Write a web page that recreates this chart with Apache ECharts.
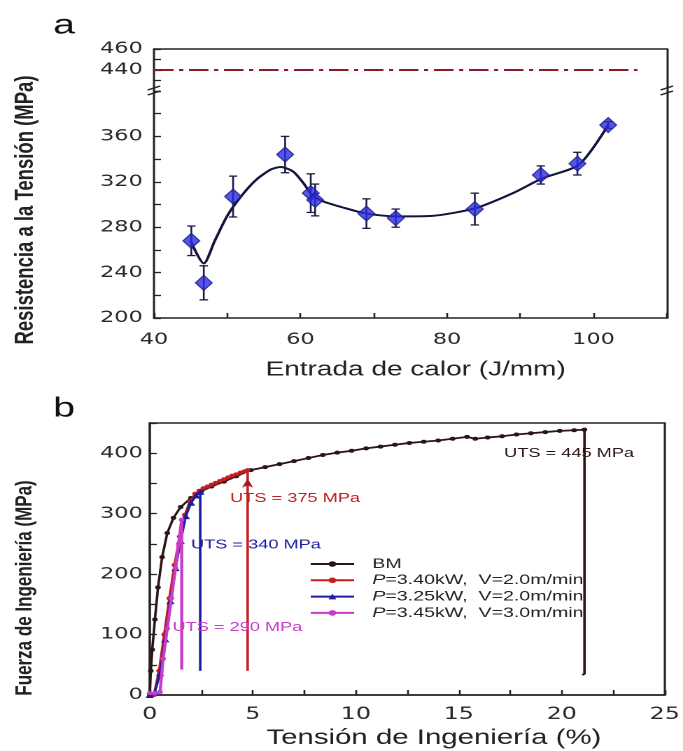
<!DOCTYPE html>
<html>
<head>
<meta charset="utf-8">
<script src="https://cdn.jsdelivr.net/npm/echarts@6/dist/echarts.min.js"></script>
<style>
  html, body { margin: 0; padding: 0; background: #fff; overflow: hidden; }
  /* la figura original viene estirada en horizontal: se dibuja a 488px y se estira */
  #main { width: 488px; height: 751px; transform: scaleX(1.3996); transform-origin: 0 0; }
</style>
</head>
<body>
<div id="main"></div>
<script>
// ---- (a) resistencia a la tension vs entrada de calor ----
const heatInput = [45.1, 46.8, 50.8, 57.9, 61.4, 62.0, 69.0, 73.0, 83.8, 92.8, 97.8, 102.0]
const utsMean = [268, 231, 307, 344, 310, 304, 292, 288, 296, 326, 336, 370]
const utsErr = [13, 15, 18, 16, 17, 14, 13, 8, 14, 8, 10, 3]
// curva de ajuste
const fitX = [45, 46.8, 48.3, 50, 52, 54, 56, 57.3, 59, 60.5, 61.5, 63, 66, 69, 73, 78, 84, 89, 93, 98, 102]
const fitY = [268, 248, 268, 290, 308, 322, 331, 333, 329, 318, 309, 303, 297, 292, 289.5, 290, 297, 310, 323, 335, 370]
// linea del metal base (440 MPa)
const bmRefX = [40, 106]
const bmRefY = [440, 440]

// ---- (b) curvas tension-deformacion ----
const seriesNames = ['BM', 'P=3.40kW,  V=2.0m/min', 'P=3.25kW,  V=2.0m/min', 'P=3.45kW,  V=3.0m/min']
const bmStrain = [0, 0.05, 0.12, 0.25, 0.4, 0.6, 0.85, 1.15, 1.5, 2.0, 2.5, 3.0, 3.6, 4.2, 4.9, 5.6, 6.3, 7.0, 7.7, 8.4, 9.1, 9.8, 10.5, 11.2, 11.9, 12.6, 13.3, 14.0, 14.7, 15.4, 15.8, 16.4, 17.1, 17.8, 18.5, 19.2, 19.9, 20.6, 21.1, 21.1, 21.0]
const bmStress = [0, 40, 75, 125, 178, 228, 268, 293, 311, 326, 337, 345, 353, 362, 372, 377, 382, 387, 392, 397, 401, 404, 408, 411, 414, 417, 419, 421, 424, 427, 424, 426, 428, 431, 433, 435, 437, 438, 439, 35, 33]
const p340Strain = [0.2, 0.45, 0.7, 0.95, 1.2, 1.45, 1.7, 1.95, 2.2, 2.4, 2.6, 2.8, 3.0, 3.2, 3.4, 3.6, 3.8, 4.0, 4.2, 4.4, 4.6, 4.75, 4.75]
const p340Stress = [0, 40, 100, 160, 215, 262, 298, 320, 333, 338, 342, 345, 348, 351, 354, 357, 360, 363, 365, 368, 370, 372, 40]
const p325Strain = [0, 0.25, 0.5, 0.75, 1.0, 1.25, 1.5, 1.75, 2.0, 2.25, 2.45, 2.45]
const p325Stress = [0, 5, 36, 92, 155, 210, 255, 296, 318, 330, 336, 40]
const p345Strain = [0, 0.25, 0.5, 0.65, 0.85, 1.05, 1.25, 1.4, 1.55, 1.55]
const p345Stress = [3, 3, 5, 60, 110, 160, 210, 250, 290, 42]
// cuantos puntos finales son la caida vertical (sin marcador)
const dropPoints = [2, 1, 1, 1]

// anotaciones UTS
const utsText = ['UTS = 445 MPa', 'UTS = 375 MPa', 'UTS = 340 MPa', 'UTS = 290 MPa']
const utsTextX = [17.2, 3.9, 2.0, 1.1]
const utsTextY = [400, 325, 248, 112]

const lineColors = ['#2b1515', '#c41e1e', '#1c1ca0', '#c83cc8']
const symbols = ['circle', 'circle', 'triangle', 'circle']
const symbolSizes = [4, 4, 6, 4]

const tickFont = 'DejaVu Sans'
const axisColor = '#222'

function buildCurve (xs, ys, drop) {
  return xs.map((x, i) => {
    if (i >= xs.length - drop) return { value: [x, ys[i]], symbol: 'none' }
    return [x, ys[i]]
  })
}

function renderErrorBar (params, api) {
  const x = api.value(0)
  const y = api.value(1)
  const e = api.value(2)
  const top = api.coord([x, y + e])
  const bottom = api.coord([x, y - e])
  const w = 3
  const style = { stroke: '#1c1c40', lineWidth: 1.3 }
  return {
    type: 'group',
    children: [
      { type: 'line', shape: { x1: top[0], y1: top[1], x2: bottom[0], y2: bottom[1] }, style },
      { type: 'line', shape: { x1: top[0] - w, y1: top[1], x2: top[0] + w, y2: top[1] }, style },
      { type: 'line', shape: { x1: bottom[0] - w, y1: bottom[1], x2: bottom[0] + w, y2: bottom[1] }, style }
    ]
  }
}

const chart = echarts.init(document.getElementById('main'), null, { devicePixelRatio: 2 })

const lineOnly = {
  axisLine: { show: true, lineStyle: { color: axisColor, width: 1.5 } },
  axisTick: { show: false },
  axisLabel: { show: false },
  splitLine: { show: false }
}
const inTick = { show: true, inside: true, length: 5, lineStyle: { color: axisColor, width: 1.3 } }

const bSeries = [
  [bmStrain, bmStress],
  [p340Strain, p340Stress],
  [p325Strain, p325Stress],
  [p345Strain, p345Stress]
].map((pair, i) => {
  const s = {
    name: seriesNames[i],
    type: 'line',
    xAxisIndex: 2,
    yAxisIndex: 4,
    data: buildCurve(pair[0], pair[1], dropPoints[i]),
    symbol: symbols[i],
    symbolSize: symbolSizes[i],
    showSymbol: true,
    color: lineColors[i],
    lineStyle: { color: lineColors[i], width: i === 3 ? 2.2 : 1.8 },
    itemStyle: { color: lineColors[i] },
    z: 3 + i
  }
  if (i === 1) {
    // flecha en la cima de la caida roja
    s.markPoint = {
      symbol: 'arrow',
      symbolSize: [6, 9],
      label: { show: false },
      itemStyle: { color: '#9a1c1c' },
      data: [{ coord: [p340Strain[p340Strain.length - 1], 358] }]
    }
  }
  return s
})

const option = {
  animation: false,
  backgroundColor: '#fff',
  grid: [
    { left: 110, right: 11.6, top: 49, height: 42, outerBoundsMode: 'none' },
    { left: 110, right: 11.6, top: 91, height: 227, outerBoundsMode: 'none' },
    { left: 107, right: 13, top: 423, height: 272, show: true, borderColor: axisColor, borderWidth: 1.5, outerBoundsMode: 'none' }
  ],
  xAxis: [
    Object.assign({ gridIndex: 0, type: 'value', min: 40, max: 110, position: 'top' }, lineOnly),
    {
      gridIndex: 1,
      type: 'value',
      min: 40,
      max: 110,
      interval: 10,
      axisLine: { show: true, lineStyle: { color: axisColor, width: 1.5 } },
      axisTick: inTick,
      splitLine: { show: false },
      axisLabel: {
        margin: 14,
        fontFamily: tickFont,
        fontSize: 16,
        color: '#2a2a2a',
        formatter: v => (v % 20 === 0 && v <= 100 ? v : '')
      }
    },
    {
      gridIndex: 2,
      type: 'value',
      min: 0,
      max: 25,
      interval: 2.5,
      axisLine: { show: true, lineStyle: { color: axisColor, width: 1.5 } },
      axisTick: inTick,
      splitLine: { show: false },
      axisLabel: {
        margin: 11,
        fontFamily: tickFont,
        fontSize: 17,
        color: '#2a2a2a',
        formatter: v => (v % 5 === 0 ? v : '')
      }
    }
  ],
  yAxis: [
    {
      gridIndex: 0,
      type: 'value',
      min: 420,
      max: 460,
      interval: 10,
      axisLine: { show: true, lineStyle: { color: axisColor, width: 1.5 } },
      axisTick: inTick,
      splitLine: { show: false },
      axisLabel: {
        margin: 8,
        fontFamily: tickFont,
        fontSize: 16,
        color: '#2a2a2a',
        formatter: v => (v === 440 || v === 460 ? v : '')
      }
    },
    Object.assign({ gridIndex: 0, type: 'value', min: 420, max: 460, position: 'right' }, lineOnly),
    {
      gridIndex: 1,
      type: 'value',
      min: 200,
      max: 400,
      interval: 20,
      axisLine: { show: true, lineStyle: { color: axisColor, width: 1.5 } },
      axisTick: inTick,
      splitLine: { show: false },
      axisLabel: {
        margin: 8,
        fontFamily: tickFont,
        fontSize: 16,
        color: '#2a2a2a',
        formatter: v => (v % 40 === 0 && v < 400 ? v : '')
      }
    },
    Object.assign({ gridIndex: 1, type: 'value', min: 200, max: 400, position: 'right' }, lineOnly),
    {
      gridIndex: 2,
      type: 'value',
      min: 0,
      max: 450,
      interval: 50,
      axisLine: { show: true, lineStyle: { color: axisColor, width: 1.5 } },
      axisTick: inTick,
      splitLine: { show: false },
      axisLabel: {
        margin: 5,
        fontFamily: tickFont,
        fontSize: 16,
        color: '#2a2a2a',
        formatter: v => (v % 100 === 0 ? v : '')
      }
    }
  ],
  legend: {
    orient: 'vertical',
    left: 221,
    top: 557,
    padding: 0,
    itemWidth: 31,
    itemHeight: 7,
    itemGap: 2.3,
    data: seriesNames,
    formatter: name => (name.charAt(0) === 'P' ? '{i|P}{t|' + name.slice(1) + '}' : '{t|' + name + '}'),
    textStyle: {
      fontFamily: 'Liberation Sans',
      fontSize: 14,
      color: '#222',
      padding: [0, 0, 0, 8],
      rich: {
        i: { fontFamily: 'Liberation Sans', fontSize: 14, color: '#222', fontStyle: 'italic' },
        t: { fontFamily: 'Liberation Sans', fontSize: 14, color: '#222' }
      }
    }
  },
  series: [
    {
      name: 'ref440',
      type: 'line',
      xAxisIndex: 0,
      yAxisIndex: 0,
      data: bmRefX.map((x, i) => [x, bmRefY[i]]),
      symbol: 'none',
      lineStyle: { color: '#8c1b2a', width: 2, type: [14, 4, 3, 4] }
    },
    {
      name: 'ajuste',
      type: 'line',
      xAxisIndex: 1,
      yAxisIndex: 2,
      data: fitX.map((x, i) => [x, fitY[i]]),
      smooth: 0.25,
      symbol: 'none',
      lineStyle: { color: '#14143c', width: 2 },
      z: 2
    },
    {
      name: 'error',
      type: 'custom',
      xAxisIndex: 1,
      yAxisIndex: 2,
      renderItem: renderErrorBar,
      encode: { x: 0, y: 1 },
      data: heatInput.map((x, i) => [x, utsMean[i], utsErr[i]]),
      z: 3
    },
    {
      name: 'uts',
      type: 'scatter',
      xAxisIndex: 1,
      yAxisIndex: 2,
      data: heatInput.map((x, i) => [x, utsMean[i]]),
      symbol: 'diamond',
      symbolSize: [12, 15],
      itemStyle: { color: '#2b2be0', borderColor: '#1a1a80', borderWidth: 1 },
      z: 4
    }
  ].concat(bSeries)
}

chart.setOption(option)

// textos y marcas de corte (posiciones sacadas de las escalas)
const graphics = []
graphics.push({ type: 'text', x: 38, y: 26, z: 100, style: { text: 'a', font: '28px "Liberation Sans"', fill: '#111', align: 'left', verticalAlign: 'middle' } })
graphics.push({ type: 'text', x: 38, y: 409, z: 100, style: { text: 'b', font: '28px "Liberation Sans"', fill: '#111', align: 'left', verticalAlign: 'middle' } })
graphics.push({ type: 'text', x: 297, y: 370, z: 100, style: { text: 'Entrada de calor (J/mm)', font: '20px "Liberation Sans"', fill: '#222', align: 'center', verticalAlign: 'middle' } })
graphics.push({ type: 'text', x: 310, y: 738, z: 100, style: { text: 'Tensión de Ingeniería (%)', font: '21px "Liberation Sans"', fill: '#222', align: 'center', verticalAlign: 'middle' } })
graphics.push({ type: 'text', x: 18.6, y: 210, rotation: Math.PI / 2, z: 100, style: { text: 'Resistencia a la Tensión (MPa)', font: 'bold 18.5px "Liberation Sans"', fill: '#222', align: 'center', verticalAlign: 'middle' } })
graphics.push({ type: 'text', x: 18, y: 588, rotation: Math.PI / 2, z: 100, style: { text: 'Fuerza de Ingeniería (MPa)', font: 'bold 17px "Liberation Sans"', fill: '#222', align: 'center', verticalAlign: 'middle' } })

utsText.forEach((t, i) => {
  const p = chart.convertToPixel({ gridIndex: 2 }, [utsTextX[i], utsTextY[i]])
  graphics.push({
    type: 'text', x: p[0], y: p[1], z: 100,
    style: { text: t, font: '13px "Liberation Sans"', fill: lineColors[i], align: 'left', verticalAlign: 'middle' }
  })
})

// marcas "//" del eje partido
const breakL = chart.convertToPixel({ gridIndex: 1 }, [40, 400])
const breakR = chart.convertToPixel({ gridIndex: 1 }, [110, 400])
;[breakL, breakR].forEach(p => {
  const bx = p[0]
  const by = p[1] - 1
  graphics.push({
    type: 'group',
    z: 100,
    children: [
      { type: 'rect', shape: { x: bx - 3, y: by - 2, width: 6, height: 5 }, style: { fill: '#fff' } },
      { type: 'line', shape: { x1: bx - 4.5, y1: by, x2: bx + 4.5, y2: by - 4 }, style: { stroke: axisColor, lineWidth: 1.3 } },
      { type: 'line', shape: { x1: bx - 4.5, y1: by + 5, x2: bx + 4.5, y2: by + 1 }, style: { stroke: axisColor, lineWidth: 1.3 } }
    ]
  })
})

chart.setOption({ graphic: graphics })
</script>
</body>
</html>
